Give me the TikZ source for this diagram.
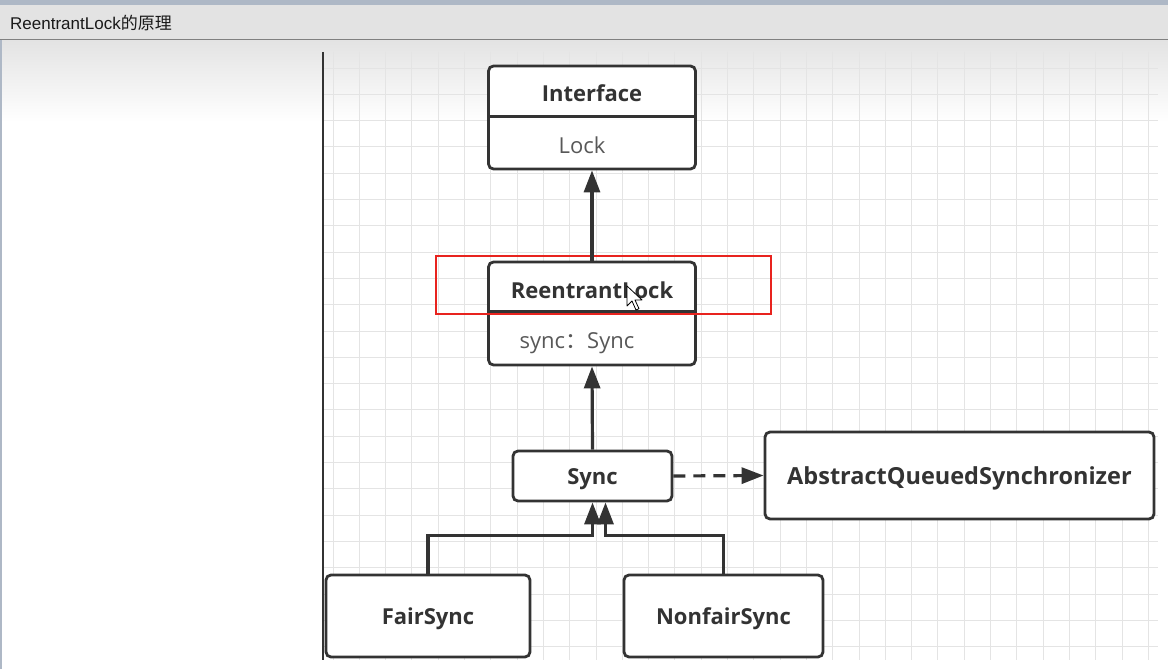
\documentclass[tikz,border=0pt]{standalone}
\usepackage{fontspec}
\setmainfont{Open Sans}
\newfontfamily\titlefont{Liberation Sans}
\newfontfamily\cjk{Noto Sans CJK SC}
\usetikzlibrary{arrows.meta,calc}
\definecolor{linegray}{HTML}{333333}
\definecolor{membergray}{HTML}{585858}
\definecolor{gridgray}{HTML}{E4E4E4}
\definecolor{barblue}{HTML}{AEB8C6}
\definecolor{bargray}{HTML}{E3E3E3}
\definecolor{markred}{HTML}{E8231E}
\tikzset{classbox/.style={draw=linegray,line width=2.8pt,rounded corners=5pt,fill=white,inner sep=0pt},
         classname/.style={font=\bfseries\fontsize{22}{26}\selectfont,text=linegray,yshift=-3pt},
         member/.style={font=\fontsize{22}{26}\selectfont,text=membergray},
         extends/.style={draw=linegray,line width=3.2pt,-{Triangle[length=22pt,width=16pt]}},
         depends/.style={extends,dash pattern=on 12pt off 8pt},
         gridline/.style={draw=gridgray,line width=0.9pt}}

\begin{document}
\begin{tikzpicture}[x=1pt,y=-1pt]
\useasboundingbox (0,0) rectangle (1168,669);
\fill[white] (0,0) rectangle (1168,669);
\fill[bargray] (0,0) rectangle (1168,39);
\fill[barblue] (0,0) rectangle (1168,5);
\shade[top color=bargray,bottom color=white] (0,40) rectangle (1168,122);
\draw[gray,line width=1.5pt] (0,39.5) -- (1168,39.5);
\draw[barblue,line width=2pt] (1,40) -- (1,669);
\node[anchor=west,inner sep=0pt,font=\titlefont\fontsize{17}{20}\selectfont,text=black!90] (caption) at (10,23) {ReentrantLock{\cjk 的原理}};
% grid
\foreach \i in {0,...,31}
  \draw[gridline] (333+26.3*\i,52) -- (333+26.3*\i,660);
\foreach \j in {0,...,22}
  \draw[gridline] (323,68+26.3*\j) -- (1158,68+26.3*\j);
\draw[linegray,line width=1.5pt] (323,52) -- (323,660);

\node[classbox,minimum width=207pt,minimum height=103pt] (iface) at (592,117.5) {};
\draw[linegray,line width=2.8pt] ([yshift=-52pt]iface.north west) -- ([yshift=-52pt]iface.north east);
\node[classname] (iface name) at ([yshift=-26pt]iface.north) {Interface};
\node[member] (iface type) at ([xshift=-10pt,yshift=25pt]iface.south) {Lock};

\node[classbox,minimum width=207pt,minimum height=103pt] (rlock) at (592,313.5) {};
\draw[linegray,line width=2.8pt] ([yshift=-51pt]rlock.north west) -- ([yshift=-51pt]rlock.north east);
\node[classname] (rlock name) at ([yshift=-27pt]rlock.north) {ReentrantLock};
\node[member] (rlock field) at ([xshift=-15pt,yshift=23pt]rlock.south) {sync{\cjk ：}Sync};
\node[draw=markred,line width=2pt,minimum width=335pt,minimum height=58pt] (focus) at (603.5,285) {};

\node[classbox,minimum width=159pt,minimum height=50pt] (sync) at (592.5,476) {};
\node[classname] at (sync) {Sync};
\node[classbox,minimum width=389pt,minimum height=87pt] (aqs) at (959.5,475.5) {};
\node[classname,font=\bfseries\fontsize{23.5}{26}\selectfont] at (aqs) {AbstractQueuedSynchronizer};
\node[classbox,minimum width=204pt,minimum height=82pt] (fair) at (428,616) {};
\node[classname] at (fair) {FairSync};
\node[classbox,minimum width=199pt,minimum height=82pt] (nonfair) at (723.5,616) {};
\node[classname] at (nonfair) {NonfairSync};

\draw[extends] (rlock.north) -- (iface.south);
\draw[extends] (sync.north) -- (rlock.south);
\draw[depends] (sync.east) -- (aqs.west);
\draw[extends] (fair.north) -- ++(0,-38) -| (sync.south);
\draw[extends] (nonfair.north) -- ++(0,-38) -| ($(sync.south)+(13,0)$);

\draw[fill=white,line width=0.8pt,line join=round] (627,286) -- ++(0,20) -- ++(5,-5) -- ++(4,9) -- ++(3,-1.3) -- ++(-4,-8.7) -- ++(7,0) -- cycle;
\end{tikzpicture}
\end{document}
